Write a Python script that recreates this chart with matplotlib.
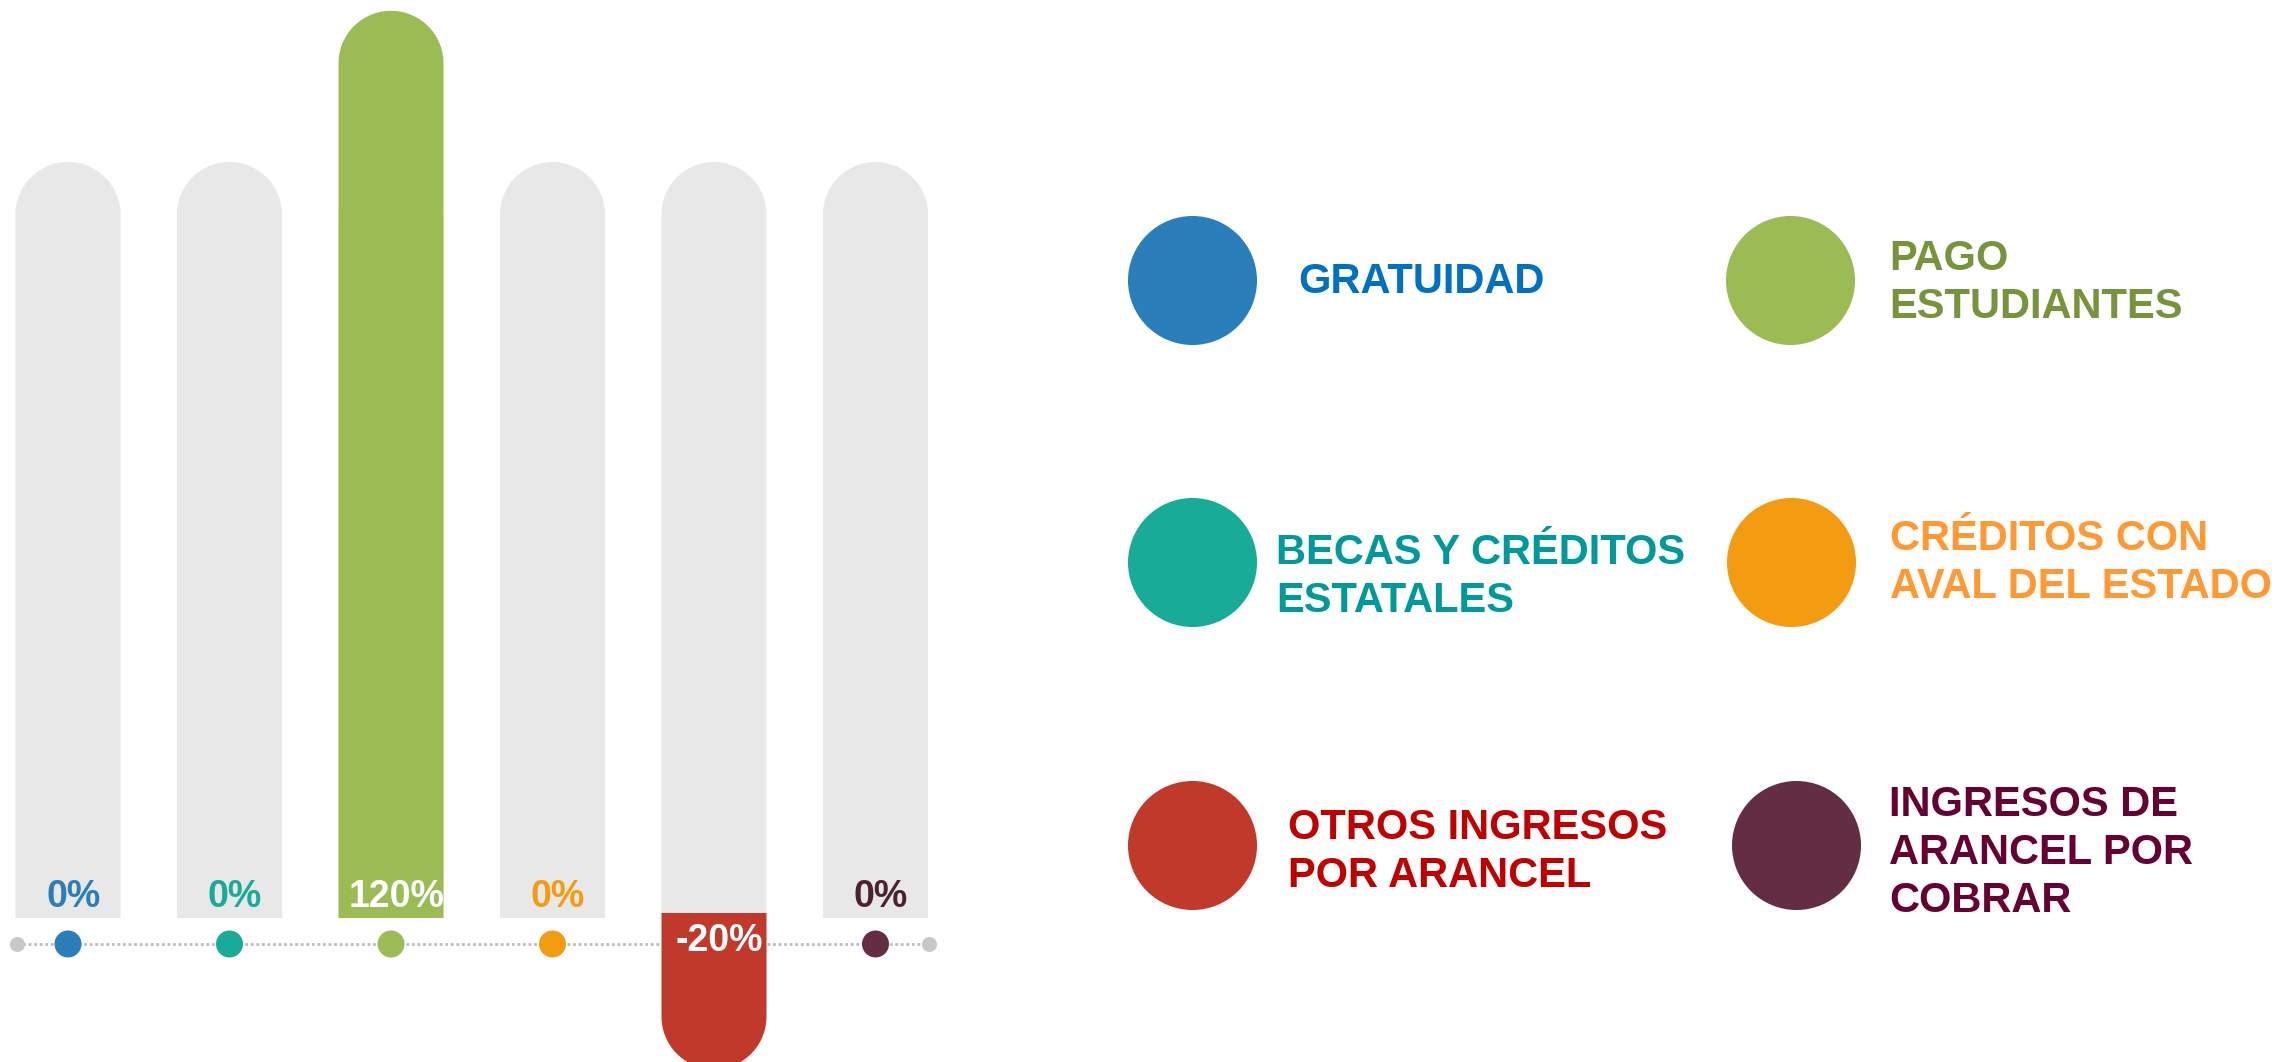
import matplotlib
matplotlib.use('Agg')
from matplotlib import pyplot as plt
from matplotlib.patches import Polygon
import numpy as np

plt.rcParams['font.family'] = ['Liberation Sans', 'DejaVu Sans']
plt.rcParams['font.weight'] = 'bold'

# data
categories = ['GRATUIDAD', 'BECAS Y CRÉDITOS\nESTATALES', 'PAGO\nESTUDIANTES',
              'CRÉDITOS CON\nAVAL DEL ESTADO', 'OTROS INGRESOS\nPOR ARANCEL',
              'INGRESOS DE\nARANCEL POR\nCOBRAR']
values = [0, 0, 120, 0, -20, 0]
value_labels = ['0%', '0%', '120%', '0%', '-20%', '0%']
track_value = 100

bar_colors = ['#2A7FBA', '#17AB98', '#9BBB55', '#F39C12', '#C0392B', '#632E44']
label_colors = ['#2A7FBA', '#17AB98', 'white', '#F39C12', 'white', '#4B2232']
text_colors = ['#0070C0', '#009999', '#77933C', '#FF9933', '#C00000', '#660033']
track_color = '#E8E8E8'

W, H = 2285, 1062
fig = plt.figure(figsize=(W / 100, H / 100), dpi=100)

# bar panel
ax = fig.add_axes([0, 0, 960 / W, 1])
ax.set_xlim(-68 / 161.5, (960 - 68) / 161.5)
ax.set_ylim(-19.05, 121.43)
ax.axis('off')

px_x = 960 / (ax.get_xlim()[1] - ax.get_xlim()[0])
px_y = H / (ax.get_ylim()[1] - ax.get_ylim()[0])
bar_w = 0.65
ry = (bar_w / 2) * px_x / px_y


def rounded_bar(x, v, color, z, base=0):
    sign = 1 if v >= 0 else -1
    top = v - sign * ry
    t = np.linspace(0, np.pi, 80)
    arc = np.column_stack([x + bar_w / 2 * np.cos(t), top + sign * ry * np.sin(t)])
    verts = np.vstack([[x + bar_w / 2, base], arc, [x - bar_w / 2, base]])
    ax.add_patch(Polygon(verts, closed=True, facecolor=color, edgecolor='none', zorder=z))


xs = np.arange(len(values))
for i, v in enumerate(values):
    rounded_bar(xs[i], track_value, track_color, 1)
    if v > 0:
        rounded_bar(xs[i], v, bar_colors[i], 2)
    elif v < 0:
        rounded_bar(xs[i], v, bar_colors[i], 2, base=5 / px_y)

for i, v in enumerate(values):
    dy = 15 if v >= 0 else -16.5
    ax.annotate(value_labels[i], (xs[i], 0), xytext=(4, dy), textcoords='offset points',
                ha='center', va='center', fontsize=27, color=label_colors[i], zorder=5)

dot_y = -26 / px_y
ax.plot([xs[0] - 0.318, xs[-1] + 0.331], [dot_y, dot_y], linestyle=(0, (1, 1)),
        color='#BDBDBD', lw=2, zorder=1)
ax.scatter([xs[0] - 0.318, xs[-1] + 0.331], [dot_y, dot_y], s=117, color='#C8C8C8',
           zorder=3, linewidths=0)
ax.scatter(xs, [dot_y] * len(xs), s=378, color=bar_colors, zorder=3, linewidths=0)

# legend panel (pixel layout)
lg = fig.add_axes([0, 0, 1, 1])
lg.set_xlim(0, W)
lg.set_ylim(H, 0)
lg.axis('off')
lg.patch.set_alpha(0)

circle_pos = [(1192, 280), (1192, 562), (1790, 280), (1791, 562), (1192, 845), (1796, 845)]
text_pos = [(1298, 282), (1276, 577), (1889, 283), (1890, 563), (1288, 852), (1889, 853)]

for i in range(len(categories)):
    lg.scatter([circle_pos[i][0]], [circle_pos[i][1]], s=8630, color=bar_colors[i],
               linewidths=0)
    lg.text(text_pos[i][0], text_pos[i][1], categories[i], ha='left', va='center',
            fontsize=30, color=text_colors[i], linespacing=1.27)

fig.savefig('out.png', dpi=100)
